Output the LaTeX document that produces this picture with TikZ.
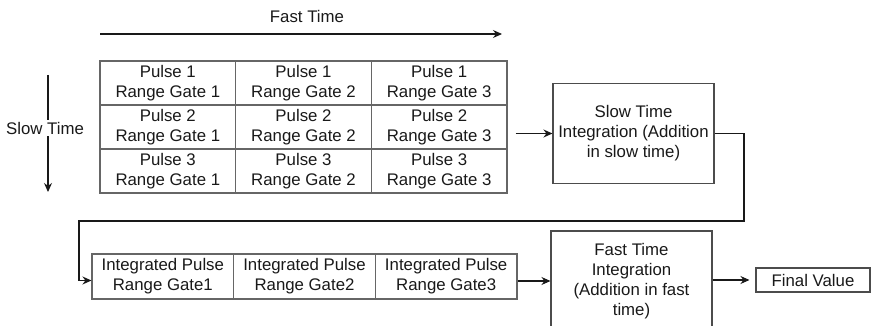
\documentclass[tikz,border=0pt]{standalone}
\usepackage{fontspec}
\setmainfont{Liberation Sans}
\usetikzlibrary{arrows.meta,calc}
\begin{document}
\begin{tikzpicture}[x=1pt,y=-1pt,
  every node/.style={font=\fontsize{16.8}{20}\selectfont, text=black!90, align=center, inner sep=0pt},
  cell/.style={draw=black!60, line width=1.1pt, minimum width=135.67pt, minimum height=44pt},
  ipcell/.style={draw=black!60, line width=1.1pt, minimum width=141.67pt, minimum height=45pt},
  blk/.style={draw=black!70, line width=1.1pt, minimum width=161pt, minimum height=100pt},
  conn/.style={draw=black!90, line width=1.1pt},
  arr/.style={conn, -{Stealth[length=9pt,width=8pt]}}]
\useasboundingbox (0,0) rectangle (871,326);
\begin{scope}
\clip (0,0) rectangle (871,326);
% fast time
\node (fast) at (307,16) {Fast Time};
\coordinate (fa1) at (100,34);
\coordinate (fa2) at (502,34);
\draw[arr] (fa1) -- (fa2);
% slow time
\node[inner sep=2pt] (slow) at (45,128) {Slow Time};
\coordinate (sa1) at (48,75);
\coordinate (sa2) at (48,192);
\draw[conn] (sa1) -- (sa1 |- slow.north);
\draw[arr] (sa1 |- slow.south) -- (sa2);
% grid
\node[cell] (c11) at (167.83,83) {Pulse 1\\Range Gate 1};
\node[cell] (c12) at (303.5,83) {Pulse 1\\Range Gate 2};
\node[cell] (c13) at (439.17,83) {Pulse 1\\Range Gate 3};
\node[cell] (c21) at (167.83,127) {Pulse 2\\Range Gate 1};
\node[cell] (c22) at (303.5,127) {Pulse 2\\Range Gate 2};
\node[cell] (c23) at (439.17,127) {Pulse 2\\Range Gate 3};
\node[cell] (c31) at (167.83,171) {Pulse 3\\Range Gate 1};
\node[cell] (c32) at (303.5,171) {Pulse 3\\Range Gate 2};
\node[cell] (c33) at (439.17,171) {Pulse 3\\Range Gate 3};
% slow time integration
\node[blk] (st) at (633.5,133.5) {Slow Time\\Integration (Addition\\in slow time)};
\draw[arr] ([xshift=8pt]c23.east |- st.west) -- (st.west);
% integrated pulses
\node[ipcell] (ip1) at (162.83,276.5) {Integrated Pulse\\Range Gate1};
\node[ipcell] (ip2) at (304.5,276.5) {Integrated Pulse\\Range Gate2};
\node[ipcell] (ip3) at (446.17,276.5) {Integrated Pulse\\Range Gate3};
\coordinate (t1) at (744,221);
\coordinate (t2) at (79,221);
\draw[arr] (st.east) -| (t1) -- (t2) |- ([yshift=-4pt]ip1.west);
% fast time integration
\node[blk] (ft) at (631.5,281) {Fast Time\\Integration\\(Addition in fast\\time)};
\draw[arr] (ip3.east |- ft.west) -- (ft.west);
% final value
\node[draw=black!70, line width=1.1pt, minimum width=114pt, minimum height=24pt] (fv) at (813,280) {Final Value};
\draw[arr, shorten >=6pt] (ft.east |- fv.west) -- (fv.west);
\end{scope}
\end{tikzpicture}
\end{document}
